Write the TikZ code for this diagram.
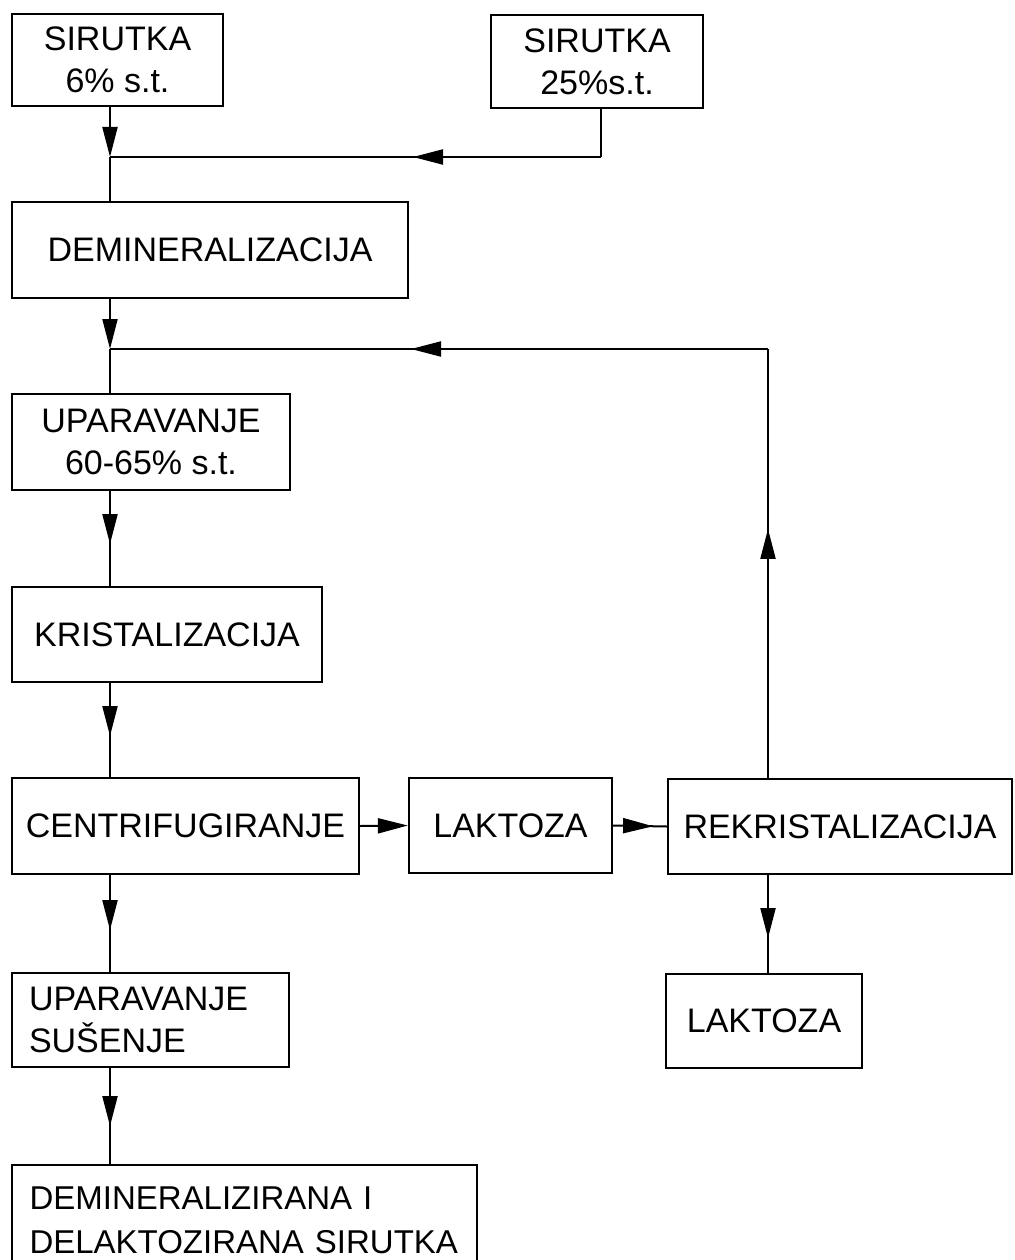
\documentclass[tikz,border=0pt]{standalone}
\usepackage{fontspec}
\setmainfont{Liberation Sans}
\usetikzlibrary{arrows.meta,decorations.markings}
\begin{document}
\begin{tikzpicture}[x=1pt,y=-1pt,
  box/.style={draw, line width=2.2pt, inner sep=0pt, font=\fontsize{34}{42}\selectfont, align=center},
  leftbox/.style={box, align=left, inner xsep=17pt},
  conn/.style={line width=2pt},
  endarrow/.style={-{Triangle[length=30pt,width=15pt]}},
  midarrow/.style={postaction={decorate}, decoration={markings, mark=at position #1 with {\arrow{Triangle[length=30pt,width=15pt]}}}}
]
\path[use as bounding box] (0,0) rectangle (1014,1260);
\clip (0,0) rectangle (1014,1260);

\node[box, minimum width=211pt, minimum height=92pt] (A) at (117.5,60) {SIRUTKA\\6\% s.t.};
\node[box, minimum width=212pt, minimum height=93pt] (B) at (597,61.5) {SIRUTKA\\25\%s.t.};
\node[box, minimum width=396pt, minimum height=96pt] (D) at (210,250) {DEMINERALIZACIJA};
\node[box, minimum width=278pt, minimum height=96pt] (U) at (151,442) {UPARAVANJE\\60-65\% s.t.};
\node[box, minimum width=310pt, minimum height=95pt] (K) at (167,634.5) {KRISTALIZACIJA};
\node[box, minimum width=347pt, minimum height=96pt] (C) at (185.5,826) {CENTRIFUGIRANJE};
\node[box, minimum width=203pt, minimum height=95pt] (L1) at (510.5,825.5) {LAKTOZA};
\node[box, minimum width=344pt, minimum height=95pt] (R) at (840,826.5) {REKRISTALIZACIJA};
\node[leftbox, text width=243pt, minimum height=94pt] (S) at (150.5,1020) {UPARAVANJE\\SUŠENJE};
\node[box, minimum width=196pt, minimum height=94pt] (L2) at (764,1021) {LAKTOZA};
\node[leftbox, inner xsep=17.5pt, text width=430pt, minimum height=110pt, font=\fontsize{33}{44}\selectfont] (E) at (244.5,1220) {DEMINERALIZIRANA I\\DELAKTOZIRANA SIRUTKA};

\coordinate (cl) at (110,0);
\coordinate (cr) at (768,0);
\coordinate (j1) at (110,157);
\coordinate (b1) at (601,157);
\coordinate (j2) at (110,349);
\coordinate (r1) at (768,349);

\draw[conn, endarrow] (A.south -| j1) -- (j1);
\draw[conn] (j1) -- (D.north -| j1);
\draw[conn] (B.south -| b1) -- (b1);
\draw[conn, midarrow=188pt] (b1) -- (j1);
\draw[conn, endarrow] (D.south -| j2) -- (j2);
\draw[conn] (j2) -- (U.north -| j2);
\draw[conn, midarrow=249pt] (R.north -| r1) -- (r1);
\draw[conn, midarrow=357pt] (r1) -- (j2);

\draw[conn, midarrow=53pt] (U.south -| cl) -- (K.north -| cl);
\draw[conn, midarrow=53pt] (K.south -| cl) -- (C.north -| cl);
\draw[conn, midarrow=55pt] (C.south -| cl) -- (S.north -| cl);
\draw[conn, midarrow=58pt] (S.south -| cl) -- (E.north -| cl);
\draw[conn, midarrow=63pt] (R.south -| cr) -- (L2.north -| cr);
\draw[conn, endarrow] (C.east) -- (L1.west);
\draw[conn, midarrow=40pt] (L1.east) -- (R.west);
\end{tikzpicture}
\end{document}
